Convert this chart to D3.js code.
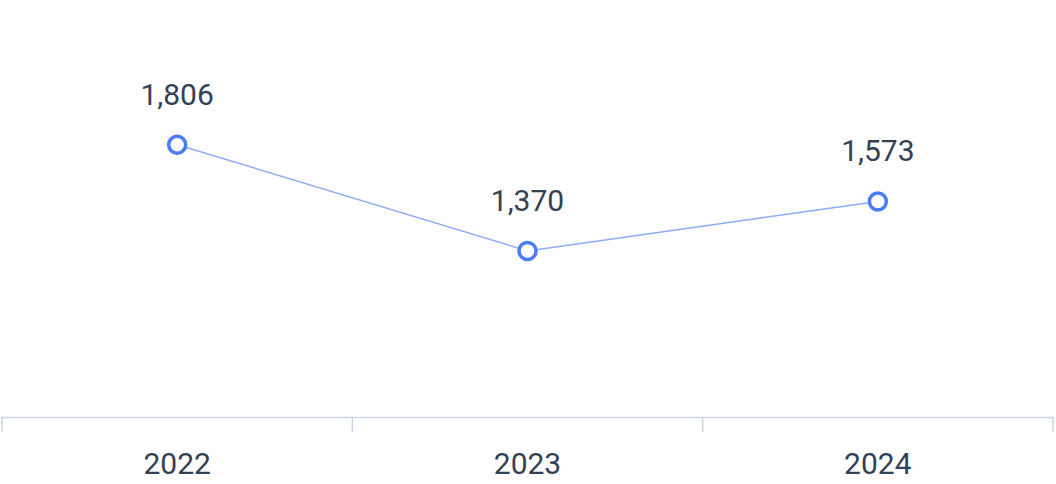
<!DOCTYPE html>
<html lang="en">
<head>
<meta charset="UTF-8">
<title>Line chart</title>
<script src="https://d3js.org/d3.v7.min.js"></script>
<style>
  body { margin: 0; background: #fff; }
  text { font-family: Roboto, "Noto Sans", sans-serif; }
</style>
</head>
<body>
<div id="my_dataviz"></div>
<script>
// data
var years = ["2022", "2023", "2024"];
var values = [1806, 1370, 1573];

var W = 1056, H = 484;
var margin = {top: 0, right: 3, bottom: 67, left: 2},
    width = W - margin.left - margin.right,
    height = H - margin.top - margin.bottom;

var svg = d3.select("#my_dataviz")
  .append("svg")
    .attr("width", W)
    .attr("height", H)
  .append("g")
    .attr("transform", "translate(" + margin.left + "," + margin.top + ")");

// x scale (bands, points sit in the middle)
var x = d3.scaleBand()
    .domain(years)
    .range([0, width]);

// y scale
var y = d3.scaleLinear()
    .domain([688, 2400])
    .range([height, 0]);

// axis
var xAxis = svg.append("g")
    .attr("transform", "translate(0," + height + ")")
    .call(d3.axisBottom(x).tickSize(0).tickPadding(36));
xAxis.select(".domain").attr("stroke", "#c9d4e4").attr("stroke-width", 1.5);
xAxis.selectAll("text")
    .style("font-size", "30px")
    .attr("fill", "#334155");

// band separators
svg.append("g").selectAll("line")
  .data(d3.range(years.length + 1))
  .enter().append("line")
    .attr("x1", function(i) { return i * x.step() })
    .attr("x2", function(i) { return i * x.step() })
    .attr("y1", height)
    .attr("y2", height + 15)
    .attr("stroke", "#c9d4e4")
    .attr("stroke-width", 1.5);

var cx = function(d, i) { return x(years[i]) + x.bandwidth() / 2 };

// line
svg.append("path")
  .datum(values)
  .attr("fill", "none")
  .attr("stroke", "#8eabf8")
  .attr("stroke-width", 1.5)
  .attr("d", d3.line().x(cx).y(function(d) { return y(d) }));

// points
svg.selectAll(".dot")
  .data(values)
  .enter().append("circle")
    .attr("cx", cx)
    .attr("cy", function(d) { return y(d) })
    .attr("r", 8.5)
    .attr("fill", "#fff")
    .attr("stroke", "#4a7cf6")
    .attr("stroke-width", 3.5);

// value labels
svg.selectAll(".lbl")
  .data(values)
  .enter().append("text")
    .attr("x", cx)
    .attr("y", function(d) { return y(d) - 40 })
    .attr("text-anchor", "middle")
    .style("font-size", "30px")
    .attr("fill", "#334155")
    .text(function(d) { return d3.format(",")(d) });
</script>
</body>
</html>
